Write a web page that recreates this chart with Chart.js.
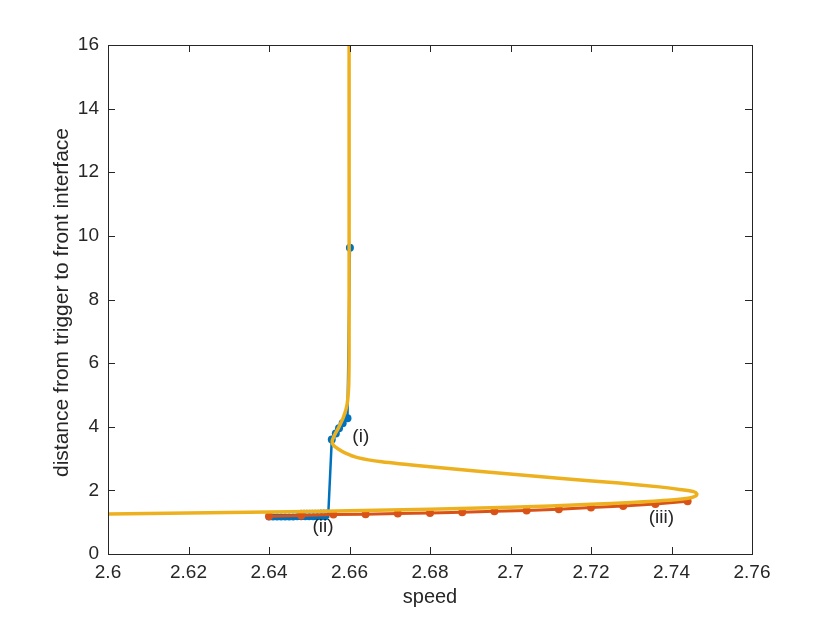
<!DOCTYPE html>
<html>
<head>
<meta charset="utf-8">
<script src="https://cdn.jsdelivr.net/npm/chart.js@4.4.1/dist/chart.umd.min.js"></script>
<style>
  html, body { margin: 0; padding: 0; background: #fff; }
  #wrap { width: 830px; height: 623px; position: relative; }
</style>
</head>
<body>
<div id="wrap"><canvas id="chart" width="830" height="623"></canvas></div>
<script>
(function() {
  'use strict';

  var BLUE = '#0072BD', ORANGE = '#D95319', YELLOW = '#EDB120', AXIS = '#262626';
  var FONT = "'Liberation Sans', Arial, Helvetica, sans-serif";

  var X_TICKS = [2.6, 2.62, 2.64, 2.66, 2.68, 2.7, 2.72, 2.74, 2.76];
  var Y_TICKS = [0, 2, 4, 6, 8, 10, 12, 14, 16];

  // yellow continuation curve (folds back at ~2.746, then turns up at ~2.66)
  var yellowX = [2.600, 2.620, 2.640, 2.660, 2.680, 2.700, 2.720, 2.730, 2.740, 2.7445, 2.7460, 2.7463,
                 2.7455, 2.7420, 2.7370, 2.7270, 2.7120, 2.6920, 2.6800, 2.6680, 2.6620, 2.6590, 2.6572,
                 2.6560, 2.6557, 2.6562, 2.6572, 2.6585, 2.6594, 2.6598, 2.6599, 2.6599];
  var yellowY = [1.26, 1.29, 1.32, 1.36, 1.41, 1.47, 1.56, 1.62, 1.70, 1.76, 1.82, 1.89,
                 1.96, 2.03, 2.11, 2.23, 2.38, 2.60, 2.74, 2.90, 3.03, 3.17, 3.30,
                 3.42, 3.55, 3.72, 3.95, 4.30, 4.70, 5.30, 6.50, 16.0];

  // orange branch with markers
  var orangeX = [2.640, 2.648, 2.656, 2.664, 2.672, 2.680, 2.688, 2.696, 2.704, 2.712, 2.720, 2.728, 2.736, 2.744];
  var orangeY = [1.19, 1.21, 1.24, 1.25, 1.27, 1.29, 1.31, 1.34, 1.37, 1.41, 1.46, 1.51, 1.57, 1.66];

  // blue branch: dense low run, jump at ~2.6555, cluster (i), top point
  var blueX = [2.6400, 2.6410, 2.6420, 2.6430, 2.6440, 2.6450, 2.6460, 2.6470, 2.6480, 2.6490, 2.6500,
               2.6510, 2.6520, 2.6530, 2.6540, 2.6547, 2.6556, 2.6566, 2.6574, 2.6583, 2.6595, 2.6601];
  var blueY = [1.16, 1.16, 1.16, 1.16, 1.16, 1.16, 1.16, 1.17, 1.17, 1.17, 1.17,
               1.17, 1.17, 1.17, 1.17, 1.17, 3.60, 3.79, 3.95, 4.11, 4.27, 9.63];
  var blueR  = [3.5, 3.5, 3.5, 3.5, 3.5, 3.5, 3.5, 3.5, 3.5, 3.5, 3.5, 3.5, 3.5, 3.5, 3.5, 0, 4, 4, 4, 4, 4, 4];

  // faint blue markers just above the yellow line near (ii)
  var faintX = [2.6480, 2.6487, 2.6494, 2.6501, 2.6508, 2.6515, 2.6522, 2.6529, 2.6536, 2.6543];
  var faintY = [1.36, 1.36, 1.36, 1.36, 1.36, 1.36, 1.36, 1.37, 1.37, 1.37];

  var LABELS = [
    { text: '(i)', x: 2.6628, y: 3.7 },
    { text: '(ii)', x: 2.6534, y: 0.85 },
    { text: '(iii)', x: 2.7375, y: 1.13 }
  ];

  function pts(xs, ys) { return xs.map(function(x, i) { return { x: x, y: ys[i] }; }); }
  function fmt(v) { return String(Number(v.toFixed(2))); }

  var frame = {
    id: 'frame',
    afterDraw: function(chart) {
      var ctx = chart.ctx, a = chart.chartArea, xs = chart.scales.x, ys = chart.scales.y;
      ctx.save();
      ctx.strokeStyle = AXIS;
      ctx.lineWidth = 1;
      ctx.strokeRect(Math.round(a.left) + 0.5, Math.round(a.top) + 0.5, Math.round(a.right - a.left), Math.round(a.bottom - a.top));
      ctx.beginPath();
      X_TICKS.forEach(function(v) {
        var px = Math.round(xs.getPixelForValue(v)) + 0.5;
        ctx.moveTo(px, a.bottom); ctx.lineTo(px, a.bottom - 7);
        ctx.moveTo(px, a.top); ctx.lineTo(px, a.top + 7);
      });
      Y_TICKS.forEach(function(v) {
        var py = Math.round(ys.getPixelForValue(v)) + 0.5;
        ctx.moveTo(a.left, py); ctx.lineTo(a.left + 7, py);
        ctx.moveTo(a.right, py); ctx.lineTo(a.right - 7, py);
      });
      ctx.stroke();

      ctx.fillStyle = AXIS;
      ctx.textAlign = 'center';
      ctx.textBaseline = 'middle';
      ctx.font = '20px ' + FONT;
      ctx.fillText('speed', (a.left + a.right) / 2, 597);
      ctx.save();
      ctx.translate(62, (a.top + a.bottom) / 2 + 3);
      ctx.rotate(-Math.PI / 2);
      ctx.font = '21px ' + FONT;
      ctx.fillText('distance from trigger to front interface', 0, 0);
      ctx.restore();

      ctx.font = '19px ' + FONT;
      LABELS.forEach(function(l) {
        ctx.fillText(l.text, xs.getPixelForValue(l.x), ys.getPixelForValue(l.y));
      });
      ctx.restore();
    }
  };

  new Chart(document.getElementById('chart'), {
    type: 'scatter',
    data: { datasets: [
      { label: 'yellow', data: pts(yellowX, yellowY), showLine: true, borderColor: YELLOW, borderWidth: 3.5,
        pointRadius: 0, tension: 0.25, fill: false },
      { label: 'orange', data: pts(orangeX, orangeY), showLine: true, borderColor: ORANGE, backgroundColor: ORANGE,
        borderWidth: 3, pointRadius: 4, pointBorderWidth: 0, fill: false },
      { label: 'faint', data: pts(faintX, faintY), showLine: false, backgroundColor: 'rgba(120,170,215,0.8)',
        pointRadius: 1.3, pointBorderWidth: 0 },
      { label: 'blue', data: pts(blueX, blueY), showLine: true, borderColor: BLUE, backgroundColor: BLUE,
        borderWidth: 2.5, pointRadius: blueR, pointBorderWidth: 0, fill: false }
    ]},
    options: {
      responsive: false, animation: false, devicePixelRatio: 1,
      layout: { padding: { top: 45, right: 78, left: 0, bottom: 0 } },
      plugins: { legend: { display: false }, tooltip: { enabled: false } },
      scales: {
        x: { type: 'linear', min: 2.6, max: 2.76,
          afterFit: function(s) { s.height = 69; },
          afterBuildTicks: function(s) { s.ticks = X_TICKS.map(function(v) { return { value: v }; }); },
          grid: { display: false, drawTicks: false }, border: { display: false },
          ticks: { color: AXIS, font: { family: FONT, size: 19 }, padding: 7, maxRotation: 0, autoSkip: false,
            callback: function(v) { return fmt(v); } } },
        y: { type: 'linear', min: 0, max: 16,
          afterFit: function(s) { s.width = 108; },
          afterBuildTicks: function(s) { s.ticks = Y_TICKS.map(function(v) { return { value: v }; }); },
          grid: { display: false, drawTicks: false }, border: { display: false },
          ticks: { color: AXIS, font: { family: FONT, size: 19 }, padding: 9, autoSkip: false,
            callback: function(v) { return fmt(v); } } }
      }
    },
    plugins: [frame]
  });
})();
</script>
</body>
</html>
